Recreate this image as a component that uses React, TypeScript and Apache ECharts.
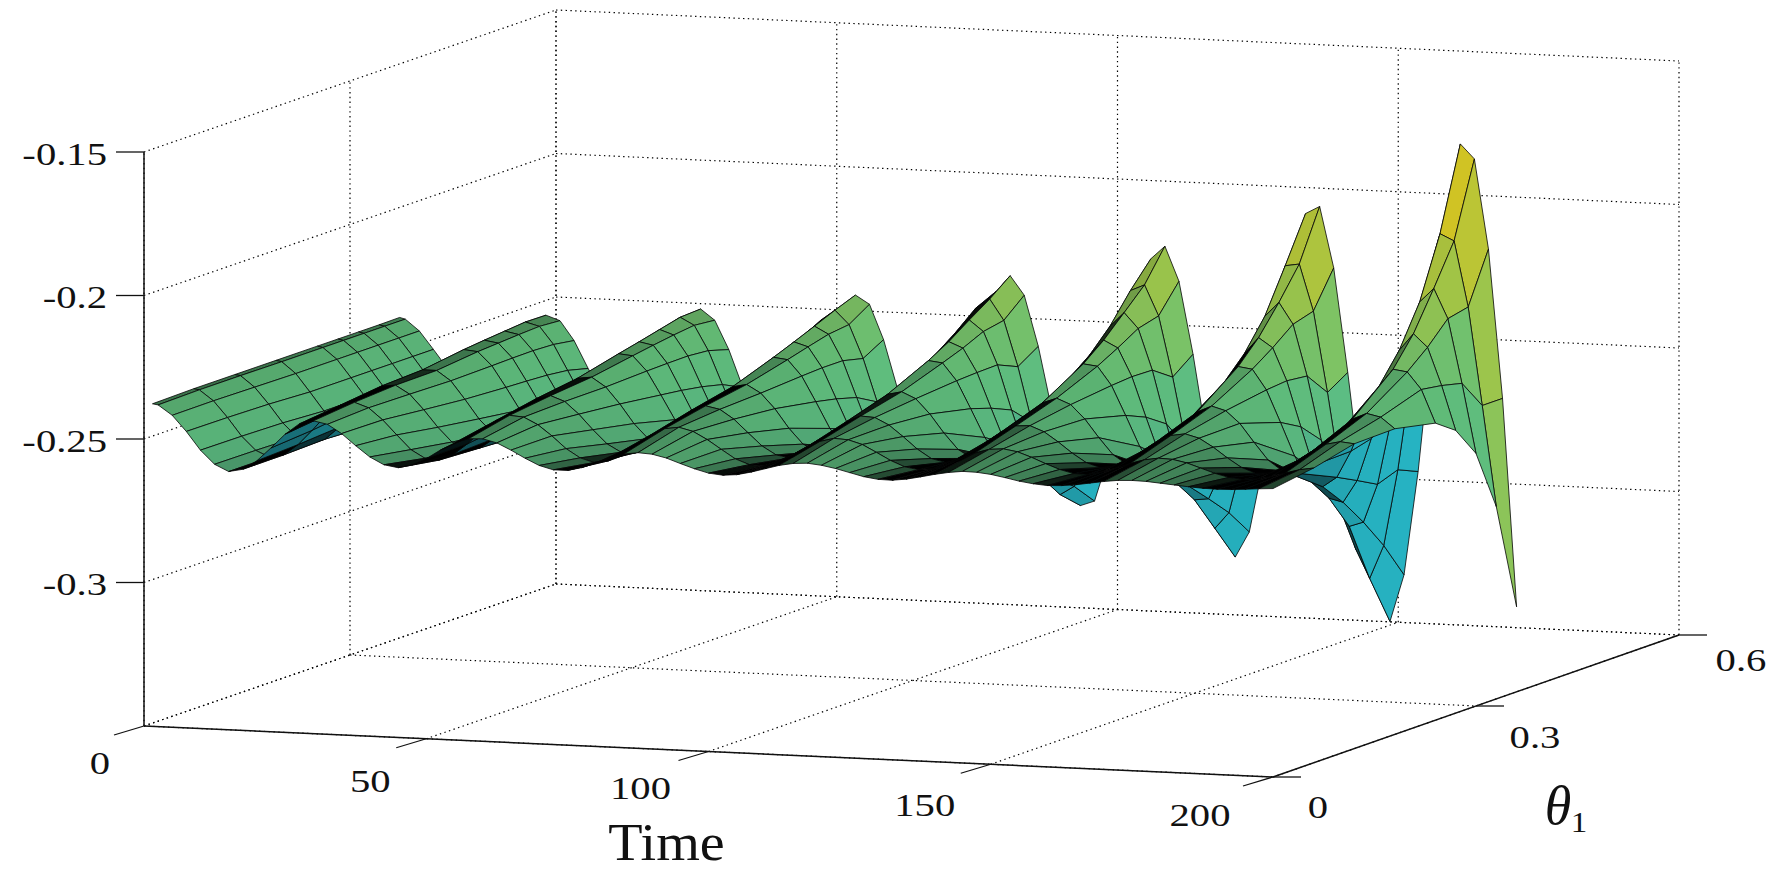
import React, { useEffect, useRef } from "react";
import * as echarts from "echarts";

// ---- axis ticks -------------------------------------------------------
const timeTicks = [0, 50, 100, 150, 200];
const thetaTicks = [0, 0.3, 0.6];
const heightTicks = [-0.35, -0.3, -0.25, -0.2, -0.15];
const heightTickLabels = ["", "-0.3", "-0.25", "-0.2", "-0.15"];
const timeTickLabels = ["0", "50", "100", "150", "200"];
const thetaTickLabels = ["0", "0.3", "0.6"];

// ---- surface samples (heights are in units of 0.0001) -------------------
const timeValues = [
  1.5, 2.5, 5, 7.5, 10, 12.5, 15, 17.5,
  20, 22.5, 25, 27.5, 30, 32.5, 35, 37.5,
  40, 42.5, 45, 47.5, 50, 52.5, 55, 57.5,
  60, 62.5, 65, 67.5, 70, 72.5, 75, 77.5,
  80, 82.5, 85, 87.5, 90, 92.5, 95, 97.5,
  100, 102.5, 105, 107.5, 110, 112.5, 115, 117.5,
  120, 122.5, 125, 127.5, 130, 132.5, 135, 137.5,
  140, 142.5, 145, 147.5, 150, 152.5, 155, 157.5,
  160, 162.5, 165, 167.5, 170, 172.5, 175, 177.5,
  180, 182.5, 185, 187.5, 190, 192.5, 195, 197.5,
  200,
];
const thetaValues = [0, 0.06, 0.12, 0.18, 0.24, 0.27, 0.3, 0.33, 0.36];

const heightAtTheta000 = [
  -2376, -2379, -2413, -2467, -2530, -2577, -2600, -2590,
  -2558, -2511, -2461, -2423, -2410, -2420, -2450, -2490,
  -2527, -2552, -2560, -2548, -2524, -2492, -2465, -2448,
  -2446, -2458, -2481, -2507, -2530, -2543, -2543, -2531,
  -2513, -2493, -2477, -2470, -2473, -2484, -2501, -2517,
  -2530, -2535, -2531, -2520, -2506, -2492, -2483, -2480,
  -2485, -2494, -2506, -2518, -2525, -2526, -2520, -2510,
  -2499, -2490, -2484, -2485, -2490, -2499, -2509, -2516,
  -2520, -2518, -2513, -2505, -2497, -2491, -2489, -2490,
  -2494, -2498, -2502, -2505, -2506, -2505, -2502, -2498,
  -2495,
];
const heightAtTheta006 = [
  -2373, -2376, -2412, -2468, -2531, -2578, -2600, -2589,
  -2551, -2499, -2444, -2407, -2395, -2412, -2452, -2502,
  -2551, -2579, -2583, -2561, -2522, -2476, -2437, -2416,
  -2420, -2444, -2481, -2523, -2553, -2567, -2559, -2533,
  -2498, -2462, -2438, -2431, -2443, -2469, -2501, -2532,
  -2550, -2552, -2537, -2511, -2482, -2458, -2445, -2448,
  -2462, -2487, -2513, -2533, -2541, -2535, -2519, -2496,
  -2474, -2459, -2455, -2463, -2480, -2500, -2518, -2530,
  -2531, -2520, -2504, -2486, -2471, -2463, -2465, -2475,
  -2491, -2507, -2519, -2524, -2520, -2509, -2495, -2481,
  -2473,
];
const heightAtTheta012 = [
  -2373, -2376, -2414, -2471, -2534, -2581, -2600, -2584,
  -2540, -2480, -2425, -2390, -2385, -2414, -2466, -2525,
  -2574, -2598, -2590, -2555, -2502, -2447, -2409, -2397,
  -2415, -2457, -2509, -2556, -2583, -2583, -2557, -2513,
  -2464, -2425, -2408, -2418, -2450, -2495, -2539, -2568,
  -2576, -2557, -2521, -2478, -2440, -2419, -2422, -2446,
  -2484, -2525, -2556, -2567, -2555, -2526, -2486, -2451,
  -2429, -2426, -2445, -2478, -2515, -2546, -2561, -2554,
  -2531, -2496, -2461, -2438, -2430, -2443, -2472, -2507,
  -2538, -2556, -2555, -2537, -2505, -2471, -2444, -2433,
  -2438,
];
const heightAtTheta018 = [
  -2373, -2377, -2416, -2478, -2542, -2587, -2600, -2590,
  -2544, -2479, -2420, -2383, -2383, -2417, -2479, -2545,
  -2594, -2610, -2597, -2553, -2490, -2428, -2388, -2382,
  -2414, -2471, -2537, -2587, -2607, -2599, -2560, -2497,
  -2434, -2393, -2383, -2411, -2463, -2529, -2582, -2606,
  -2600, -2565, -2505, -2441, -2395, -2384, -2406, -2457,
  -2521, -2576, -2605, -2603, -2569, -2512, -2448, -2400,
  -2382, -2402, -2450, -2513, -2570, -2602, -2604, -2575,
  -2520, -2456, -2407, -2385, -2399, -2441, -2504, -2564,
  -2599, -2605, -2580, -2527, -2462, -2408, -2386, -2397,
  -2435,
];
const heightAtTheta024 = [
  -2373, -2377, -2416, -2478, -2542, -2587, -2600, -2580,
  -2528, -2459, -2397, -2362, -2367, -2414, -2487, -2564,
  -2617, -2632, -2609, -2547, -2465, -2393, -2352, -2357,
  -2408, -2489, -2573, -2632, -2648, -2622, -2554, -2465,
  -2385, -2340, -2346, -2401, -2488, -2579, -2643, -2660,
  -2632, -2559, -2462, -2376, -2327, -2333, -2393, -2488,
  -2586, -2655, -2674, -2644, -2564, -2460, -2366, -2314,
  -2320, -2385, -2487, -2593, -2668, -2688, -2656, -2570,
  -2457, -2356, -2299, -2306, -2376, -2487, -2602, -2682,
  -2704, -2669, -2576, -2454, -2345, -2284, -2291, -2350,
  -2465,
];
const heightAtTheta027 = [
  -2373, -2377, -2416, -2478, -2542, -2587, -2600, -2578,
  -2523, -2451, -2389, -2354, -2362, -2412, -2490, -2571,
  -2626, -2640, -2611, -2541, -2452, -2375, -2335, -2345,
  -2406, -2498, -2591, -2653, -2668, -2632, -2548, -2445,
  -2356, -2311, -2326, -2397, -2503, -2609, -2678, -2693,
  -2648, -2552, -2433, -2335, -2286, -2306, -2389, -2511,
  -2631, -2705, -2720, -2665, -2554, -2422, -2310, -2256,
  -2281, -2379, -2518, -2652, -2736, -2750, -2685, -2555,
  -2405, -2280, -2223, -2256, -2369, -2527, -2682, -2771,
  -2783, -2705, -2557, -2386, -2244, -2185, -2230, -2361,
  -2515,
];
const heightAtTheta030 = [
  -2373, -2377, -2416, -2478, -2542, -2587, -2600, -2576,
  -2518, -2444, -2381, -2347, -2357, -2411, -2494, -2576,
  -2632, -2645, -2609, -2531, -2435, -2356, -2317, -2334,
  -2405, -2510, -2613, -2677, -2689, -2639, -2538, -2421,
  -2325, -2281, -2307, -2397, -2523, -2647, -2718, -2726,
  -2661, -2537, -2396, -2282, -2235, -2273, -2387, -2542,
  -2686, -2767, -2770, -2685, -2533, -2364, -2234, -2185,
  -2238, -2381, -2566, -2732, -2826, -2820, -2713, -2526,
  -2324, -2175, -2125, -2199, -2377, -2598, -2792, -2894,
  -2877, -2743, -2509, -2271, -2101, -2052, -2155, -2378,
  -2620,
];
const heightAtTheta033 = [
  -2373, -2377, -2416, -2478, -2542, -2587, -2600, -2572,
  -2511, -2436, -2372, -2340, -2353, -2414, -2502, -2591,
  -2648, -2658, -2612, -2522, -2419, -2334, -2299, -2325,
  -2411, -2527, -2640, -2706, -2708, -2641, -2520, -2390,
  -2287, -2250, -2298, -2414, -2563, -2700, -2774, -2764,
  -2667, -2506, -2340, -2221, -2187, -2259, -2418, -2610,
  -2776, -2857, -2826, -2690, -2482, -2275, -2135, -2113,
  -2219, -2430, -2671, -2865, -2950, -2893, -2703, -2437,
  -2180, -2024, -2016, -2178, -2459, -2767, -2999, -3100,
  -2983, -2717, -2378, -2064, -1888, -1911, -2139, -2480,
  -2830,
];
const heightAtTheta036 = [
  -2372, -2377, -2416, -2478, -2542, -2588, -2599, -2570,
  -2507, -2433, -2370, -2341, -2358, -2425, -2520, -2612,
  -2670, -2675, -2620, -2521, -2411, -2327, -2295, -2332,
  -2432, -2562, -2679, -2744, -2747, -2688, -2561, -2409,
  -2282, -2222, -2252, -2373, -2543, -2707, -2812, -2821,
  -2720, -2541, -2341, -2187, -2130, -2196, -2372, -2600,
  -2804, -2920, -2902, -2743, -2493, -2232, -2049, -2003,
  -2123, -2375, -2675, -2927, -3075, -2985, -2745, -2403,
  -2075, -1867, -1840, -2052, -2414, -2818, -3129, -3275,
  -3110, -2748, -2279, -1858, -1600, -1650, -1962, -2480,
  -3204,
];
const heightRows = [
  heightAtTheta000, heightAtTheta006, heightAtTheta012,
  heightAtTheta018, heightAtTheta024, heightAtTheta027,
  heightAtTheta030, heightAtTheta033, heightAtTheta036,
];

// ---- view: the box's corners on the page --------------------------------
const W = 1779;
const H = 872;
function project(t: number, theta: number, z: number): [number, number] {
  const u = t / 200;
  const v = theta / 0.6;
  const w = (z + 0.35) / 0.2;
  return [144 + 1129 * u + 412 * v - 6 * u * v, 726 + 51 * u - 142 * v - 574 * w];
}

// Colour follows the surface's curvature along time; the underside is blue.
const colourStops: [number, number[]][] = [
  [-420, [245, 125, 30]],
  [-250, [255, 235, 40]],
  [-130, [184, 236, 92]],
  [-40, [118, 230, 148]],
  [30, [110, 226, 158]],
  [90, [74, 206, 186]],
  [180, [50, 218, 228]],
  [300, [36, 230, 245]],
];
const undersideColour = [46, 214, 232];
function curvatureColour(c: number): number[] {
  if (c <= colourStops[0][0]) return colourStops[0][1];
  for (let i = 1; i < colourStops.length; i++) {
    const [c1, a] = colourStops[i];
    const [c0, b] = colourStops[i - 1];
    if (c <= c1) {
      const f = (c - c0) / (c1 - c0);
      return a.map((x, k) => b[k] + (x - b[k]) * f);
    }
  }
  return colourStops[colourStops.length - 1][1];
}
// The reference's mesh has one line per time unit and per 0.01 of theta, far
// finer than this grid, so where cells crowd on screen they read as dark: the
// tone follows how small such a mesh step would be in this cell.
function shadedFill(rgb: number[], meshStepArea: number): string {
  const a = Math.max(meshStepArea, 0.01);
  const cover = Math.min(1, 0.16 + Math.pow(11 / a, 1.6));
  return `rgb(${rgb.map((x) => Math.round(x * (1 - cover))).join(",")})`;
}

function buildCells() {
  const cells: number[][] = [];
  // far rows first, early times first: back-to-front for this camera
  for (let i = thetaValues.length - 2; i >= 0; i--) {
    for (let j = 0; j < timeValues.length - 1; j++) {
      const a = heightRows[i];
      const b = heightRows[i + 1];
      const jl = Math.max(1, j);
      const jr = Math.min(timeValues.length - 2, j + 1);
      const curv =
        ((a[jl - 1] + a[jl + 1] - 2 * a[jl] + b[jl - 1] + b[jl + 1] - 2 * b[jl]) +
          (a[jr - 1] + a[jr + 1] - 2 * a[jr] + b[jr - 1] + b[jr + 1] - 2 * b[jr])) / 4;
      cells.push([
        timeValues[j], timeValues[j + 1], thetaValues[i], thetaValues[i + 1],
        a[j] * 1e-4, a[j + 1] * 1e-4, b[j + 1] * 1e-4, b[j] * 1e-4, curv,
      ]);
    }
  }
  return cells;
}

type Seg = [number, number, number, number, number, number];
function buildGridLines(): Seg[] {
  const zMin = heightTicks[0];
  const zMax = heightTicks[heightTicks.length - 1];
  const tMin = timeTicks[0];
  const tMax = timeTicks[timeTicks.length - 1];
  const thMin = thetaTicks[0];
  const thMax = thetaTicks[thetaTicks.length - 1];
  const out: Seg[] = [];
  for (const z of heightTicks) {
    out.push([tMin, thMax, z, tMax, thMax, z]);
    out.push([tMin, thMin, z, tMin, thMax, z]);
  }
  for (const t of timeTicks) {
    out.push([t, thMax, zMin, t, thMax, zMax]);
    out.push([t, thMin, zMin, t, thMax, zMin]);
  }
  for (const th of thetaTicks) {
    out.push([tMin, th, zMin, tMin, th, zMax]);
    out.push([tMin, th, zMin, tMax, th, zMin]);
  }
  return out;
}
function buildAxisLines(): Seg[] {
  const zMin = heightTicks[0];
  const zMax = heightTicks[heightTicks.length - 1];
  return [
    [0, 0, zMin, 0, 0, zMax],
    [0, 0, zMin, 200, 0, zMin],
    [200, 0, zMin, 200, 0.6, zMin],
  ];
}

// tick = [t, theta, z, dx, dy]
function buildTicks(): number[][] {
  const out: number[][] = [];
  for (const z of heightTicks.slice(1)) out.push([0, 0, z, -28, 0]);
  for (const t of timeTicks) out.push([t, 0, -0.35, -30, 9]);
  for (const th of thetaTicks) out.push([200, th, -0.35, 28, 0]);
  return out;
}

const numberFont = '32px "Liberation Serif"';
const timeLabelOffsets = [[-44, 37], [-56, 42], [-68, 37], [-66, 41], [-73, 38]];
const thetaLabelOffsets = [[45, 30], [59, 31], [62, 25]];
const heightLabelOffset = [-37, 2];

type Lab = { text: string; t: number; th: number; z: number; dx: number; dy: number; font: string; sx: number; align: string };
function buildLabels(): Lab[] {
  const out: Lab[] = [];
  heightTicks.forEach((z, i) => {
    if (heightTickLabels[i]) out.push({ text: heightTickLabels[i], t: 0, th: 0, z, dx: heightLabelOffset[0], dy: heightLabelOffset[1], font: numberFont, sx: 1.27, align: "right" });
  });
  timeTicks.forEach((t, i) => out.push({ text: timeTickLabels[i], t, th: 0, z: -0.35, dx: timeLabelOffsets[i][0], dy: timeLabelOffsets[i][1], font: numberFont, sx: 1.27, align: "center" }));
  thetaTicks.forEach((th, i) => out.push({ text: thetaTickLabels[i], t: 200, th, z: -0.35, dx: thetaLabelOffsets[i][0], dy: thetaLabelOffsets[i][1], font: numberFont, sx: 1.27, align: "center" }));
  out.push({ text: "Time", t: 100, th: 0, z: -0.35, dx: -42, dy: 91, font: '53px "Liberation Serif"', sx: 1.06, align: "center" });
  out.push({ text: "θ", t: 200, th: 0.3, z: -0.35, dx: 82, dy: 100, font: 'italic 54px "Liberation Serif"', sx: 1, align: "center" });
  out.push({ text: "1", t: 200, th: 0.3, z: -0.35, dx: 103, dy: 116, font: '30px "Liberation Serif"', sx: 1.1, align: "center" });
  return out;
}

function segmentSeries(name: string, data: Seg[], style: any, z: number) {
  return {
    type: "custom",
    name,
    silent: true,
    clip: false,
    z,
    data,
    renderItem: (_p: any, api: any) => {
      const a = api.coord(project(api.value(0), api.value(1), api.value(2)));
      const b = api.coord(project(api.value(3), api.value(4), api.value(5)));
      return { type: "line", shape: { x1: a[0], y1: a[1], x2: b[0], y2: b[1] }, style };
    },
  };
}

export default function App() {
  const ref = useRef<HTMLDivElement | null>(null);
  useEffect(() => {
    document.body.style.margin = "0";
    document.body.style.background = "#fff";
    const chart = echarts.init(ref.current!, null, { renderer: "svg" });
    const labels = buildLabels();
    chart.setOption({
      animation: false,
      backgroundColor: "#fff",
      grid: { left: 0, right: 0, top: 0, bottom: 0 },
      xAxis: { type: "value", min: 0, max: W, show: false },
      yAxis: { type: "value", min: 0, max: H, inverse: true, show: false },
      series: [
        segmentSeries("grid", buildGridLines(), { stroke: "#000", lineWidth: 1.2, lineDash: [1.4, 3.4], fill: null }, 1),
        segmentSeries("axes", buildAxisLines(), { stroke: "#111", lineWidth: 1.5, fill: null }, 2),
        {
          type: "custom",
          name: "ticks",
          silent: true,
          clip: false,
          z: 2,
          data: buildTicks(),
          renderItem: (_p: any, api: any) => {
            const a = api.coord(project(api.value(0), api.value(1), api.value(2)));
            return {
              type: "line",
              shape: { x1: a[0], y1: a[1], x2: a[0] + api.value(3), y2: a[1] + api.value(4) },
              style: { stroke: "#111", lineWidth: 1.3, fill: null },
            };
          },
        },
        {
          type: "custom",
          name: "surface",
          silent: true,
          clip: false,
          z: 3,
          data: buildCells(),
          renderItem: (_p: any, api: any) => {
            const t0 = api.value(0), t1 = api.value(1), th0 = api.value(2), th1 = api.value(3);
            const pts = [
              api.coord(project(t0, th0, api.value(4))),
              api.coord(project(t1, th0, api.value(5))),
              api.coord(project(t1, th1, api.value(6))),
              api.coord(project(t0, th1, api.value(7))),
            ];
            let signed = 0;
            for (let k = 0; k < 4; k++) {
              const p = pts[k];
              const q = pts[(k + 1) % 4];
              signed += p[0] * q[1] - q[0] * p[1];
            }
            signed /= 2;
            const underside = signed > 0;
            const base = underside ? undersideColour : curvatureColour(api.value(8));
            const meshSteps = ((th1 - th0) / 0.01) * (t1 - t0);
            return {
              type: "polygon",
              shape: { points: pts },
              style: { fill: shadedFill(base, Math.abs(signed) / meshSteps), stroke: "#050505", lineWidth: 0.8 },
            };
          },
        },
        {
          type: "custom",
          name: "labels",
          silent: true,
          clip: false,
          z: 4,
          data: labels.map((_, i) => [i]),
          renderItem: (_p: any, api: any) => {
            const l = labels[api.value(0)];
            const a = api.coord(project(l.t, l.th, l.z));
            return {
              type: "text",
              x: a[0] + l.dx,
              y: a[1] + l.dy,
              scaleX: l.sx,
              style: { text: l.text, font: l.font, fill: "#111", align: l.align, verticalAlign: "middle" },
            };
          },
        },
      ],
    });
    return () => chart.dispose();
  }, []);
  return <div ref={ref} style={{ width: W, height: H }} />;
}
